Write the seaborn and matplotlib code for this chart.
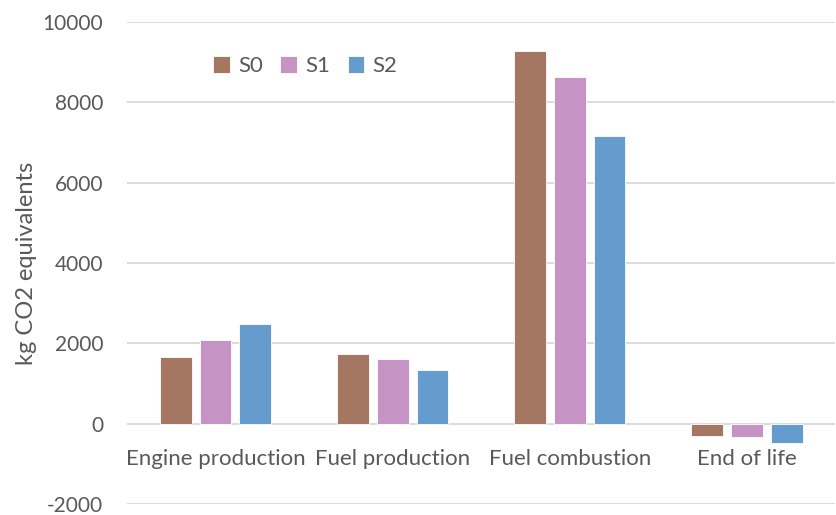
import matplotlib
matplotlib.use("Agg")
import matplotlib.pyplot as plt
import pandas as pd
import seaborn as sns

categories = ["Engine production", "Fuel production", "Fuel combustion", "End of life"]
scenarios = ["S0", "S1", "S2"]
s0 = [1650, 1740, 9270, -305]
s1 = [2075, 1610, 8620, -320]
s2 = [2485, 1345, 7160, -470]
colors = ["#A57763", "#C593C4", "#659BCD"]

df = pd.DataFrame({
    "category": categories * 3,
    "scenario": [s for s in scenarios for _ in categories],
    "value": s0 + s1 + s2,
})

sns.set_style("white")
plt.rcParams["font.family"] = ["Lato", "DejaVu Sans"]
plt.rcParams["axes.unicode_minus"] = False
text_color = "#595959"

fig = plt.figure(figsize=(8.37, 5.15), dpi=100)
ax = fig.add_axes([0.1517, 0.0214, 0.8463, 0.9359])

sns.barplot(
    data=df, x="category", y="value", hue="scenario",
    order=categories, hue_order=scenarios, palette=colors, saturation=1,
    width=0.675, gap=0.2, edgecolor="white", linewidth=0.6,
    ax=ax,
)

ax.set_xlim(-0.5, 3.5)
ax.set_ylim(-2000, 10000)
ax.set_yticks(range(-2000, 10001, 2000))
ax.yaxis.grid(True, color="#D9D9D9", linewidth=1.3)
ax.set_axisbelow(True)
for side in ["top", "right", "left", "bottom"]:
    ax.spines[side].set_visible(False)
ax.spines["bottom"].set_position(("data", 0))

ax.tick_params(axis="y", length=0, pad=17, labelsize=15, labelcolor=text_color)
ax.tick_params(axis="x", length=0, pad=18, labelsize=16, labelcolor=text_color)
ax.set_xlabel("")
ax.set_ylabel("kg CO2 equivalents", fontsize=17, color=text_color, labelpad=4)

ax.legend(
    loc="center left", bbox_to_anchor=(0.122, 0.908), ncol=3, frameon=False,
    fontsize=16, labelcolor=text_color, handlelength=0.75, handleheight=0.75,
    handletextpad=0.35, columnspacing=0.8, borderpad=0, borderaxespad=0,
)

fig.savefig("out.png", dpi=100)
